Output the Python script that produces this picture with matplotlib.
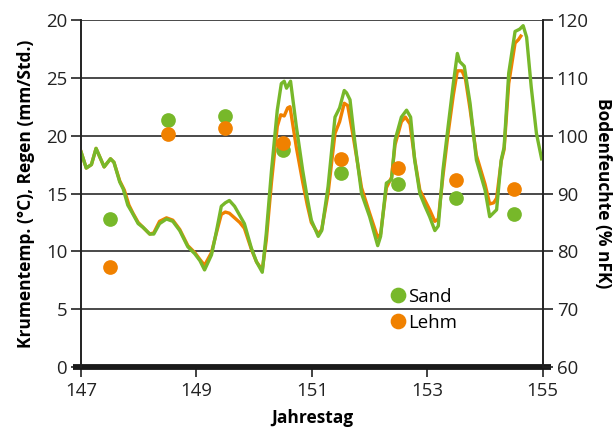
import matplotlib
matplotlib.use("Agg")
import matplotlib.pyplot as plt
from matplotlib.lines import Line2D

plt.rcParams['font.family'] = ['Open Sans', 'DejaVu Sans']

# Soil temperature (hourly-ish readings), sandy soil
sand_day = [147.00, 147.09, 147.18, 147.26, 147.40, 147.51, 147.57, 147.67, 147.73, 147.81,
            147.88, 147.99, 148.07, 148.19, 148.26, 148.36, 148.48, 148.59, 148.71, 148.85,
            148.97, 149.06, 149.14, 149.26, 149.34, 149.43, 149.50, 149.57, 149.66, 149.83,
            149.95, 150.04, 150.14, 150.21, 150.30, 150.40, 150.47, 150.52, 150.56, 150.63,
            150.73, 150.84, 150.92, 150.99, 151.11, 151.17, 151.28, 151.40, 151.48, 151.56,
            151.60, 151.66, 151.74, 151.86, 152.00, 152.14, 152.19, 152.29, 152.38, 152.44,
            152.55, 152.64, 152.71, 152.78, 152.87, 152.96, 153.04, 153.13, 153.19, 153.27,
            153.36, 153.45, 153.52, 153.56, 153.64, 153.74, 153.85, 154.00, 154.08, 154.20,
            154.28, 154.33, 154.41, 154.52, 154.60, 154.66, 154.72, 154.80, 154.89, 154.98]
sand_temp = [18.6, 17.2, 17.5, 18.9, 17.3, 18.0, 17.7, 16.0, 15.4, 14.0,
             13.4, 12.4, 12.1, 11.5, 11.5, 12.4, 12.8, 12.6, 11.8, 10.4,
             9.8, 9.2, 8.4, 9.7, 11.6, 13.9, 14.2, 14.4, 13.9, 12.4,
             10.3, 9.1, 8.2, 11.6, 17.0, 22.2, 24.5, 24.7, 24.1, 24.7,
             20.8, 17.0, 14.6, 12.7, 11.3, 11.8, 15.6, 21.6, 22.4, 23.9,
             23.7, 23.1, 19.6, 15.0, 13.0, 10.5, 11.3, 15.9, 16.2, 19.6,
             21.6, 22.2, 21.6, 17.9, 15.0, 13.9, 13.0, 11.8, 12.2, 17.0,
             20.8, 24.5, 27.1, 26.4, 26.0, 22.8, 17.9, 15.3, 13.0, 13.6,
             17.9, 19.0, 25.4, 29.0, 29.2, 29.5, 28.5, 24.2, 20.2, 18.0]

# Soil temperature, loamy soil
lehm_day = [147.00, 147.09, 147.18, 147.26, 147.40, 147.51, 147.57, 147.67, 147.75, 147.83,
            147.90, 147.99, 148.07, 148.19, 148.26, 148.36, 148.48, 148.59, 148.71, 148.85,
            148.97, 149.06, 149.14, 149.26, 149.34, 149.43, 149.50, 149.57, 149.66, 149.75,
            149.83, 149.95, 150.04, 150.14, 150.21, 150.30, 150.40, 150.46, 150.52, 150.58,
            150.62, 150.73, 150.84, 150.92, 150.99, 151.11, 151.17, 151.28, 151.40, 151.48,
            151.56, 151.62, 151.72, 151.86, 152.00, 152.14, 152.19, 152.29, 152.38, 152.44,
            152.55, 152.62, 152.70, 152.78, 152.87, 152.96, 153.04, 153.13, 153.19, 153.27,
            153.36, 153.45, 153.52, 153.60, 153.66, 153.74, 153.85, 154.00, 154.08, 154.15,
            154.20, 154.28, 154.33, 154.41, 154.52, 154.58, 154.62]
lehm_temp = [18.6, 17.2, 17.5, 18.9, 17.3, 18.0, 17.7, 16.1, 15.3, 14.0,
             13.3, 12.5, 12.1, 11.5, 11.6, 12.6, 12.9, 12.7, 11.9, 10.5,
             9.9, 9.3, 8.8, 9.9, 11.5, 13.2, 13.4, 13.3, 12.9, 12.5,
             12.0, 10.2, 9.1, 8.4, 11.0, 16.0, 20.8, 21.8, 21.7, 22.4,
             22.5, 19.0, 16.0, 14.0, 12.5, 11.5, 11.9, 15.0, 20.2, 21.2,
             22.8, 22.6, 19.8, 15.5, 13.3, 11.2, 11.5, 15.5, 16.4, 19.2,
             21.2, 21.6, 21.0, 18.0, 15.3, 14.4, 13.6, 12.6, 12.8, 16.5,
             20.2, 23.5, 25.6, 25.6, 24.9, 22.3, 18.3, 15.8, 14.1, 14.2,
             14.6, 17.8, 18.8, 24.5, 28.0, 28.3, 28.6]

# Daily soil moisture (% nFK)
moist_day = [147.5, 148.5, 149.5, 150.5, 151.5, 152.5, 153.5, 154.5]
moist_sand = [85.6, 102.7, 103.4, 97.5, 93.6, 91.7, 89.2, 86.5]
moist_lehm = [77.3, 100.3, 101.3, 98.8, 96.0, 94.4, 92.4, 90.8]

x_ticks = [147, 149, 151, 153, 155]
left_ticks = [0, 5, 10, 15, 20, 25, 30]
left_labels = ['0', '5', '10', '15', '20', '25', '20']
right_ticks = [60, 70, 80, 90, 100, 110, 120]

GREEN = '#77b82a'
ORANGE = '#f08100'
GRID = '#3a3a3a'

fig = plt.figure(figsize=(6.14, 4.32), dpi=100)
ax = fig.add_axes([0.132, 0.150, 0.752, 0.804])
ax2 = ax.twinx()

ax.plot(lehm_day, lehm_temp, color=ORANGE, lw=2.4, solid_joinstyle='round', zorder=3)
ax.plot(sand_day, sand_temp, color=GREEN, lw=2.4, solid_joinstyle='round', zorder=4)

ax.set_xlim(147, 155)
ax.set_ylim(0, 30)
ax.set_xticks(x_ticks)
ax.set_yticks(left_ticks)
ax.set_yticklabels(left_labels)
ax.grid(axis='y', color=GRID, lw=1.3)
ax.set_axisbelow(True)

ax2.scatter(moist_day, moist_sand, s=112, color=GREEN, zorder=5, linewidths=0)
ax2.scatter(moist_day, moist_lehm, s=112, color=ORANGE, zorder=6, linewidths=0)
ax2.set_ylim(60, 120)
ax2.set_yticks(right_ticks)

for a in (ax, ax2):
    for side in ('top', 'bottom'):
        a.spines[side].set_visible(False)
    a.spines['left'].set_color('#222222')
    a.spines['right'].set_color('#222222')
    a.spines['left'].set_linewidth(1.2)
    a.spines['right'].set_linewidth(1.2)
    a.tick_params(labelsize=13.4, colors='#222222', length=7, width=1.2, pad=3)

ax.tick_params(axis='x', pad=4)

# thick zero line along the bottom, slightly past both spines
ax.plot([-0.018, 1.018], [0, 0], transform=ax.transAxes, color='#1a1a1a',
        lw=4.2, solid_capstyle='butt', clip_on=False, zorder=7)

ax.set_xlabel('Jahrestag', fontsize=12.5, fontweight='bold', labelpad=6)
ax.set_ylabel('Krumentemp. (°C), Regen (mm/Std.)', fontsize=12.5,
              fontweight='bold', labelpad=8)
ax2.set_ylabel('Bodenfeuchte (% nFK)', fontsize=12.5, fontweight='bold',
               rotation=270, labelpad=17)

handles = [Line2D([], [], ls='', marker='o', ms=10.3, color=GREEN),
           Line2D([], [], ls='', marker='o', ms=10.3, color=ORANGE)]
ax2.legend(handles, ['Sand', 'Lehm'], loc='upper left', bbox_to_anchor=(0.675, 0.228),
           frameon=False, fontsize=13.4, handlelength=0.6, handletextpad=0.25,
           labelspacing=0.42, borderpad=0, borderaxespad=0)

fig.savefig('out.png', dpi=100)
